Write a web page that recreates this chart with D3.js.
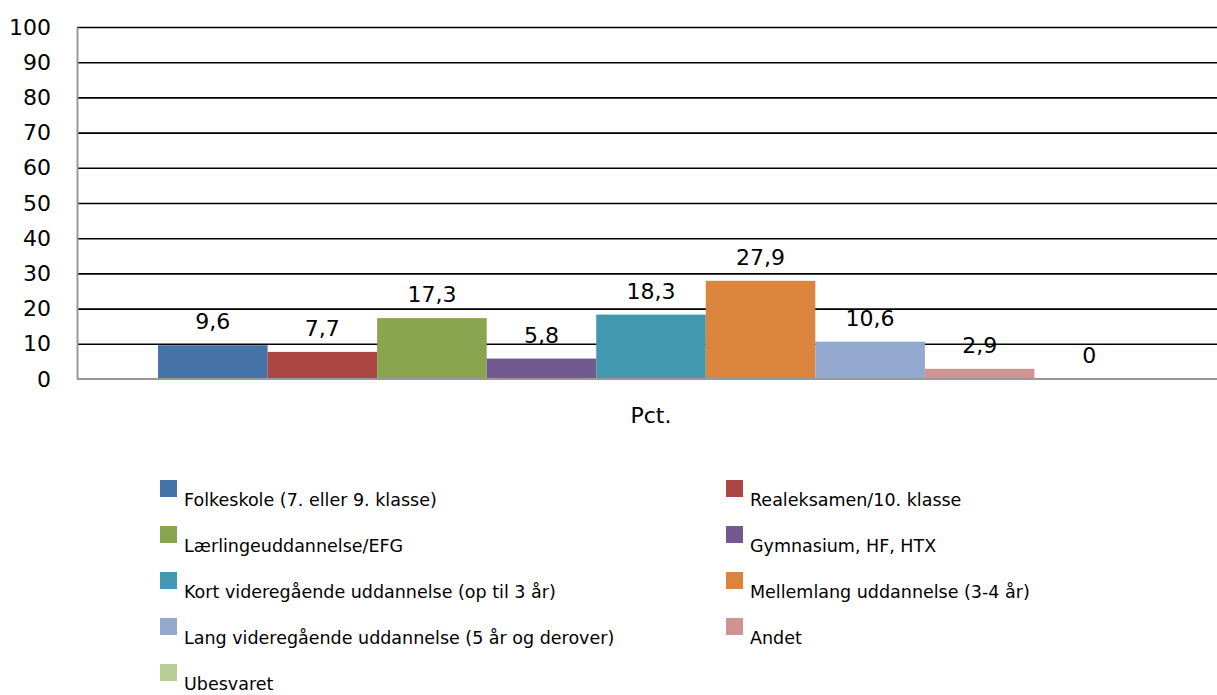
<!DOCTYPE html>
<html>
<head>
<meta charset="utf-8">
<script src="https://cdn.jsdelivr.net/npm/d3@7"></script>
<style>
  html, body { margin: 0; padding: 0; background: #fff; }
  svg { display: block; }
  text { font-family: "DejaVu Sans", Verdana, sans-serif; fill: #000; }
</style>
</head>
<body>
<svg id="chart" width="1217" height="695"></svg>
<script>
const categories = ["Pct."];
const series = [
  "Folkeskole (7. eller 9. klasse)",
  "Realeksamen/10. klasse",
  "Lærlingeuddannelse/EFG",
  "Gymnasium, HF, HTX",
  "Kort videregående uddannelse (op til 3 år)",
  "Mellemlang uddannelse (3-4 år)",
  "Lang videregående uddannelse (5 år og derover)",
  "Andet",
  "Ubesvaret"
];
const values = [9.6, 7.7, 17.3, 5.8, 18.3, 27.9, 10.6, 2.9, 0];
const valueLabels = ["9,6", "7,7", "17,3", "5,8", "18,3", "27,9", "10,6", "2,9", "0"];
const colors = ["#4572A7", "#AA4643", "#89A54E", "#71588F", "#4198AF", "#DB843D", "#93A9CF", "#D19392", "#B9CD96"];
const yTicks = [0, 10, 20, 30, 40, 50, 60, 70, 80, 90, 100];

const svg = d3.select("#chart");
const plot = { left: 77, right: 1225, top: 27, bottom: 379 };

const y = d3.scaleLinear().domain([0, 100]).range([plot.bottom, plot.top]);
const x0 = d3.scaleBand().domain(categories).range([plot.left, plot.right])
  .paddingInner(0).paddingOuter(0.0822);
const x1 = d3.scaleBand().domain(series).range([0, x0.bandwidth()]).padding(0);

// gridlines
const grid = svg.append("g").attr("transform", `translate(${plot.left},0)`)
  .call(d3.axisLeft(y).tickValues(yTicks.filter(d => d > 0)).tickSize(-(1217 - plot.left)).tickFormat(""));
grid.select(".domain").remove();
grid.selectAll(".tick line").attr("stroke", "#000").attr("stroke-width", 1.6);

// bars
const g = svg.append("g").attr("transform", `translate(${x0(categories[0])},0)`);
g.selectAll("rect").data(values).enter().append("rect")
  .attr("x", (d, i) => x1(series[i]))
  .attr("y", d => y(d))
  .attr("width", x1.bandwidth())
  .attr("height", d => y(0) - y(d))
  .attr("fill", (d, i) => colors[i]);

// data labels
g.selectAll("text.lbl").data(values).enter().append("text")
  .attr("class", "lbl")
  .attr("x", (d, i) => x1(series[i]) + x1.bandwidth() / 2)
  .attr("y", d => y(d) - 16)
  .attr("text-anchor", "middle")
  .style("font-size", "22px")
  .text((d, i) => valueLabels[i]);

// y axis
const yAxis = svg.append("g").attr("transform", `translate(${plot.left},0)`)
  .call(d3.axisLeft(y).tickValues(yTicks).tickSize(0).tickPadding(26));
yAxis.select(".domain").attr("stroke", "#999").attr("stroke-width", 2);
yAxis.selectAll("text").style("font-size", "22px").attr("fill", "#000")
  .style("font-family", "'DejaVu Sans', Verdana, sans-serif");

// x axis baseline
svg.append("line")
  .attr("x1", plot.left).attr("x2", 1217)
  .attr("y1", y(0)).attr("y2", y(0))
  .attr("stroke", "#999").attr("stroke-width", 2);

// category label
svg.append("text")
  .attr("x", x0(categories[0]) + x0.bandwidth() / 2)
  .attr("y", 423)
  .attr("text-anchor", "middle")
  .style("font-size", "22px")
  .text(categories[0]);

// legend
const legend = svg.append("g");
const colX = [160, 726];
series.forEach((s, i) => {
  const col = i % 2, row = Math.floor(i / 2);
  const baseY = 506 + row * 46;
  legend.append("rect")
    .attr("x", colX[col]).attr("y", baseY - 26)
    .attr("width", 17).attr("height", 17)
    .attr("fill", colors[i]);
  legend.append("text")
    .attr("x", colX[col] + 24).attr("y", baseY)
    .style("font-family", "'DejaVu Sans', Verdana, sans-serif")
    .style("font-size", "17.5px")
    .text(s);
});
</script>
</body>
</html>
